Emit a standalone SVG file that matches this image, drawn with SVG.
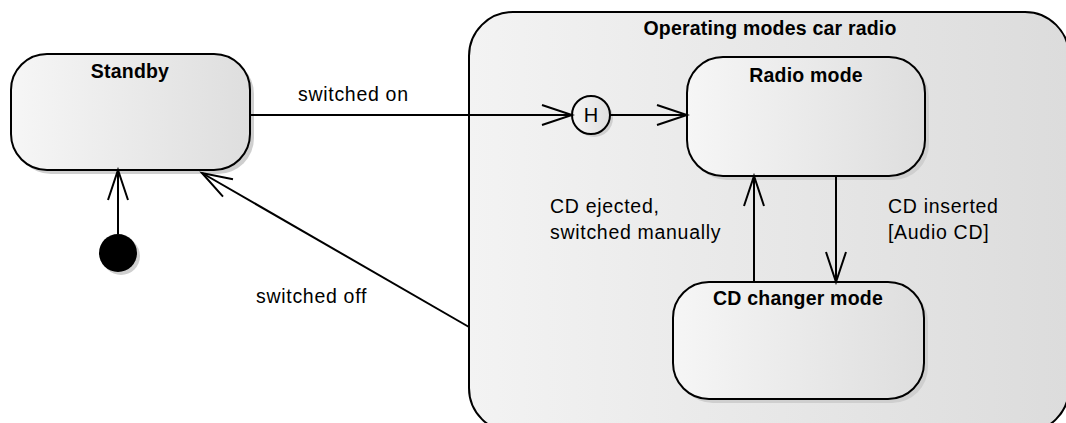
<svg xmlns="http://www.w3.org/2000/svg" width="1066" height="423" viewBox="0 0 1066 423">
<style>
.box{stroke:#000;stroke-width:2;fill:url(#g)}
.shadow{fill:#cfcfcf;stroke:none}
.title{font-family:"Liberation Sans",Arial,sans-serif;font-weight:bold;font-size:19.5px;text-anchor:middle;fill:#000;letter-spacing:0.2px}
.lbl{font-family:"Liberation Sans",Arial,sans-serif;font-size:19.5px;fill:#000;letter-spacing:0.7px}
.edge{stroke:#000;stroke-width:2;fill:none}
</style>
<defs>
<linearGradient id="g" x1="0" y1="0" x2="1" y2="0">
<stop offset="0" stop-color="#f6f6f6"/>
<stop offset="1" stop-color="#dedede"/>
</linearGradient>
<linearGradient id="gc" x1="0" y1="0" x2="1" y2="0">
<stop offset="0" stop-color="#f3f3f3"/>
<stop offset="1" stop-color="#dcdcdc"/>
</linearGradient>
<marker id="open" markerWidth="34" markerHeight="24" refX="31" refY="12" orient="auto" markerUnits="userSpaceOnUse">
<path d="M1,2 L31,12 L1,22" fill="none" stroke="#000" stroke-width="2"/>
</marker>
</defs>
<g id="container">
<rect x="469" y="12" width="600" height="420" rx="44" ry="44" fill="url(#gc)" stroke="#000" stroke-width="2"/>
<text class="title" x="770" y="35">Operating modes car radio</text>
</g>
<g id="standby">
<rect class="shadow" x="15" y="58" width="239" height="116" rx="36" ry="36"/>
<rect class="box" x="11" y="54" width="239" height="116" rx="36" ry="36"/>
<text class="title" x="130" y="78">Standby</text>
</g>
<g id="initial">
<circle cx="121" cy="256" r="19" class="shadow"/>
<circle cx="118" cy="253" r="19" fill="#000"/>
</g>
<g id="history">
<circle cx="594" cy="118" r="19" class="shadow"/>
<circle cx="591" cy="115" r="19" stroke="#000" stroke-width="2" fill="url(#g)"/>
<text x="591" y="122" font-family="Liberation Sans,Arial,sans-serif" font-size="20" text-anchor="middle" fill="#000">H</text>
</g>
<g id="radio">
<rect class="shadow" x="691" y="61" width="238" height="119" rx="36" ry="36"/>
<rect class="box" x="687" y="57" width="238" height="119" rx="36" ry="36"/>
<text class="title" x="806" y="82">Radio mode</text>
</g>
<g id="cdchanger">
<rect class="shadow" x="677" y="286" width="251" height="117" rx="36" ry="36"/>
<rect class="box" x="673" y="282" width="251" height="117" rx="36" ry="36"/>
<text class="title" x="798" y="305">CD changer mode</text>
</g>
<g id="connectors">
<path class="edge" d="M250,115 H572" marker-end="url(#open)"/>
<path class="edge" d="M610,115 H687" marker-end="url(#open)"/>
<path class="edge" d="M118,234 V170" marker-end="url(#open)"/>
<path class="edge" d="M469,327 L202,173" marker-end="url(#open)"/>
<path class="edge" d="M754,282 V176" marker-end="url(#open)"/>
<path class="edge" d="M836,176 V282" marker-end="url(#open)"/>
</g>
<g id="labels">
<text class="lbl" x="298" y="101">switched on</text>
<text class="lbl" x="256" y="303">switched off</text>
<text class="lbl" x="550" y="213">CD ejected,</text>
<text class="lbl" x="550" y="239">switched manually</text>
<text class="lbl" x="888" y="213">CD inserted</text>
<text class="lbl" x="888" y="239">[Audio CD]</text>
</g>
</svg>
